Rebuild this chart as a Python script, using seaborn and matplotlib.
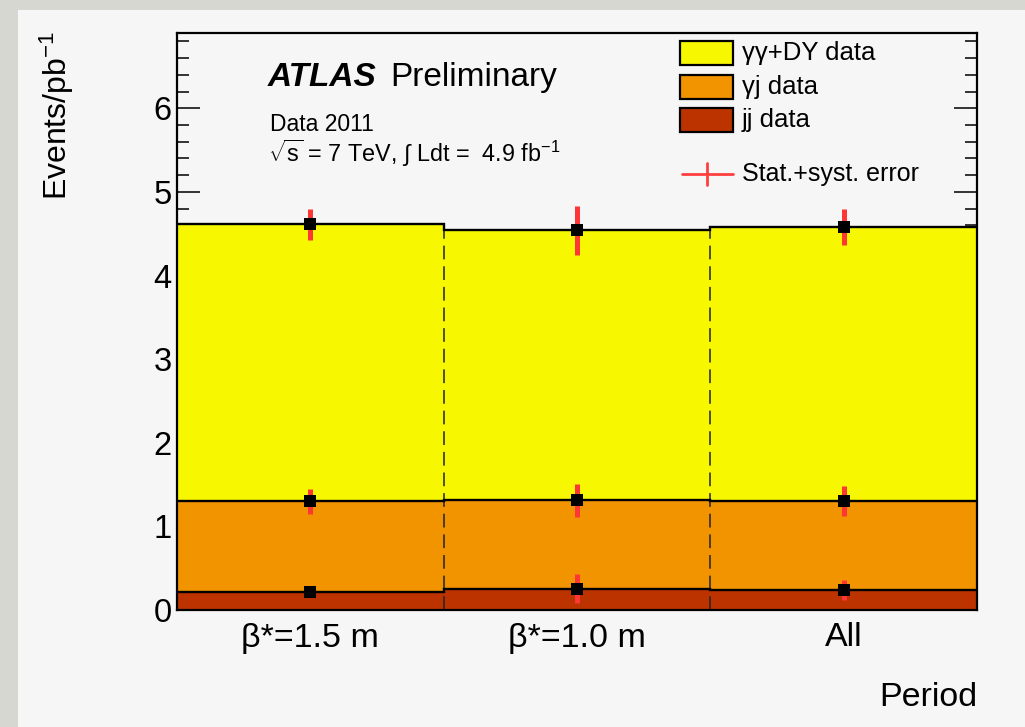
import numpy as np
import pandas as pd
import matplotlib
matplotlib.use("Agg")
import matplotlib.pyplot as plt
from matplotlib.patches import Rectangle
from matplotlib.lines import Line2D
import seaborn as sns

# ---------------- data ----------------
periods = ["β*=1.5 m", "β*=1.0 m", "All"]
components = ["γγ+DY data", "γj data", "jj data"]
yy_dy = [3.31, 3.23, 3.275]      # γγ+DY contribution (events/pb^-1)
gam_j = [1.08, 1.055, 1.07]      # γj contribution
jet_j = [0.22, 0.255, 0.235]     # jj contribution
err_total = [0.18, 0.29, 0.22]   # stat.+syst. error on total
err_gj = [0.15, 0.20, 0.18]      # error on γj+jj level
err_jj = [0.03, 0.17, 0.12]      # error on jj level
colors = ["#f7f700", "#f29400", "#bd3300"]
y_ticks = [0, 1, 2, 3, 4, 5, 6]

# ---------------- style ----------------
sns.set_style("ticks")
plt.rcParams["font.family"] = ["Liberation Sans", "DejaVu Sans"]
plt.rcParams["mathtext.fontset"] = "custom"
plt.rcParams["mathtext.rm"] = "Liberation Sans"
plt.rcParams["mathtext.it"] = "Liberation Sans:italic"
plt.rcParams["mathtext.bf"] = "Liberation Sans:bold"
plt.rcParams["text.color"] = "black"
plt.rcParams["xtick.labelcolor"] = "black"
plt.rcParams["ytick.labelcolor"] = "black"

W, H = 1025, 727
fig = plt.figure(figsize=(W / 100, H / 100), dpi=100)
fig.patch.set_facecolor("#d7d7d2")
fig.add_artist(Rectangle((18 / W, 0), 1, (H - 10) / H, transform=fig.transFigure,
                         facecolor="#f6f6f6", edgecolor="none", zorder=0))

ax = fig.add_axes([177 / W, (H - 610) / H, 800 / W, 577 / H])
ax.set_facecolor("#f6f6f6")

# stacked histogram via seaborn
x_pos = np.arange(len(periods))
rows = []
for i in range(len(periods)):
    rows.append({"pos": x_pos[i], "component": components[0], "events": yy_dy[i]})
    rows.append({"pos": x_pos[i], "component": components[1], "events": gam_j[i]})
    rows.append({"pos": x_pos[i], "component": components[2], "events": jet_j[i]})
df = pd.DataFrame(rows)
sns.histplot(data=df, x="pos", weights="events", hue="component",
             hue_order=components, multiple="stack", discrete=True, shrink=1,
             palette=dict(zip(components, colors)), alpha=1, linewidth=0,
             legend=False, ax=ax, zorder=1)

lvl_jj = np.array(jet_j)
lvl_gj = lvl_jj + np.array(gam_j)
lvl_tot = lvl_gj + np.array(yy_dy)
edges = np.arange(len(periods) + 1) - 0.5

# outlines
for lvl in (lvl_jj, lvl_gj, lvl_tot):
    ax.stairs(lvl, edges, color="black", lw=1.7, zorder=3, baseline=None)
for k in range(1, len(periods)):
    top = min(lvl_tot[k - 1], lvl_tot[k])
    ax.vlines(edges[k], 0, top, color="#222222", lw=1.1, linestyles=(0, (9, 4.5)), zorder=2)

# error bars + markers
for lvl, err in ((lvl_tot, err_total), (lvl_gj, err_gj), (lvl_jj, err_jj)):
    ax.errorbar(x_pos, lvl, yerr=err, fmt="none", ecolor="#ff3636", elinewidth=3.6,
                capsize=0, zorder=4)
    sns.scatterplot(x=x_pos, y=lvl, marker="s", s=65, color="black", edgecolor="black",
                    linewidth=0, ax=ax, zorder=5)

# axes
ax.set_xlim(-0.5, len(periods) - 0.5)
ax.set_ylim(0, 6.9)
ax.set_xticks(x_pos)
ax.set_xticklabels(periods, fontsize=24.5)
ax.set_yticks(y_ticks)
ax.set_yticklabels([str(t) for t in y_ticks], fontsize=23.5)
ax.yaxis.set_minor_locator(matplotlib.ticker.MultipleLocator(0.2))
ax.tick_params(axis="x", which="both", length=0, pad=9, labelcolor="black")
ax.tick_params(axis="y", which="major", direction="in", length=16.5, width=1.4,
               color="#333333", right=True, left=True, pad=4, labelcolor="black")
ax.tick_params(axis="y", which="minor", direction="in", length=8.5, width=1.4,
               color="#333333", right=True, left=True)
for s in ax.spines.values():
    s.set_visible(True)
    s.set_linewidth(1.6)
    s.set_color("black")
    s.set_zorder(6)
ax.set_xlabel("")
ax.set_ylabel("")

fig.text(57 / W, (H - 31) / H, "Events/pb$^{-1}$", rotation=90, ha="center", va="top",
         fontsize=23, color="black")
fig.text(977 / W, (H - 697) / H, "Period", ha="right", va="center", fontsize=24.5,
         color="black")

def axx(px):
    return (px - 177) / 800

def axy(py):
    return (610 - py) / 577

ax.text(axx(268), axy(86), "ATLAS", fontsize=24, fontweight="bold", style="italic",
        transform=ax.transAxes, va="baseline", ha="left", color="black")
ax.text(axx(390), axy(86), "Preliminary", fontsize=24, transform=ax.transAxes,
        va="baseline", ha="left", color="black")
ax.text(axx(270), axy(131), "Data 2011", fontsize=16.5, transform=ax.transAxes,
        va="baseline", ha="left", color="black")
ax.text(axx(268), axy(162), r"$\sqrt{\mathrm{s}}$ = 7 TeV, $\int$ Ldt =  4.9 fb$^{-1}$",
        fontsize=16.8, transform=ax.transAxes, va="baseline", ha="left", color="black")

# legend (drawn manually)
box_tops = [41, 75, 108]
for c, lab, bt in zip(colors, components, box_tops):
    ax.add_patch(Rectangle((axx(680), axy(bt + 24)), 53 / 800, 24 / 577,
                           transform=ax.transAxes, facecolor=c, edgecolor="black",
                           lw=1.6, zorder=7, clip_on=False))
    ax.text(axx(742), axy(bt + 12), lab, fontsize=18.5, transform=ax.transAxes,
            va="center", ha="left", zorder=7, color="black")
ax.add_line(Line2D([axx(682), axx(733)], [axy(174), axy(174)], color="#ff3f3f", lw=2.0,
                   transform=ax.transAxes, zorder=7))
ax.add_line(Line2D([axx(707), axx(707)], [axy(163), axy(185)], color="#ff3f3f", lw=2.0,
                   transform=ax.transAxes, zorder=7))
ax.text(axx(742), axy(174), "Stat.+syst. error", fontsize=18, transform=ax.transAxes,
        va="center", ha="left", zorder=7, color="black")

fig.savefig("out.png", dpi=100, facecolor=fig.get_facecolor())
